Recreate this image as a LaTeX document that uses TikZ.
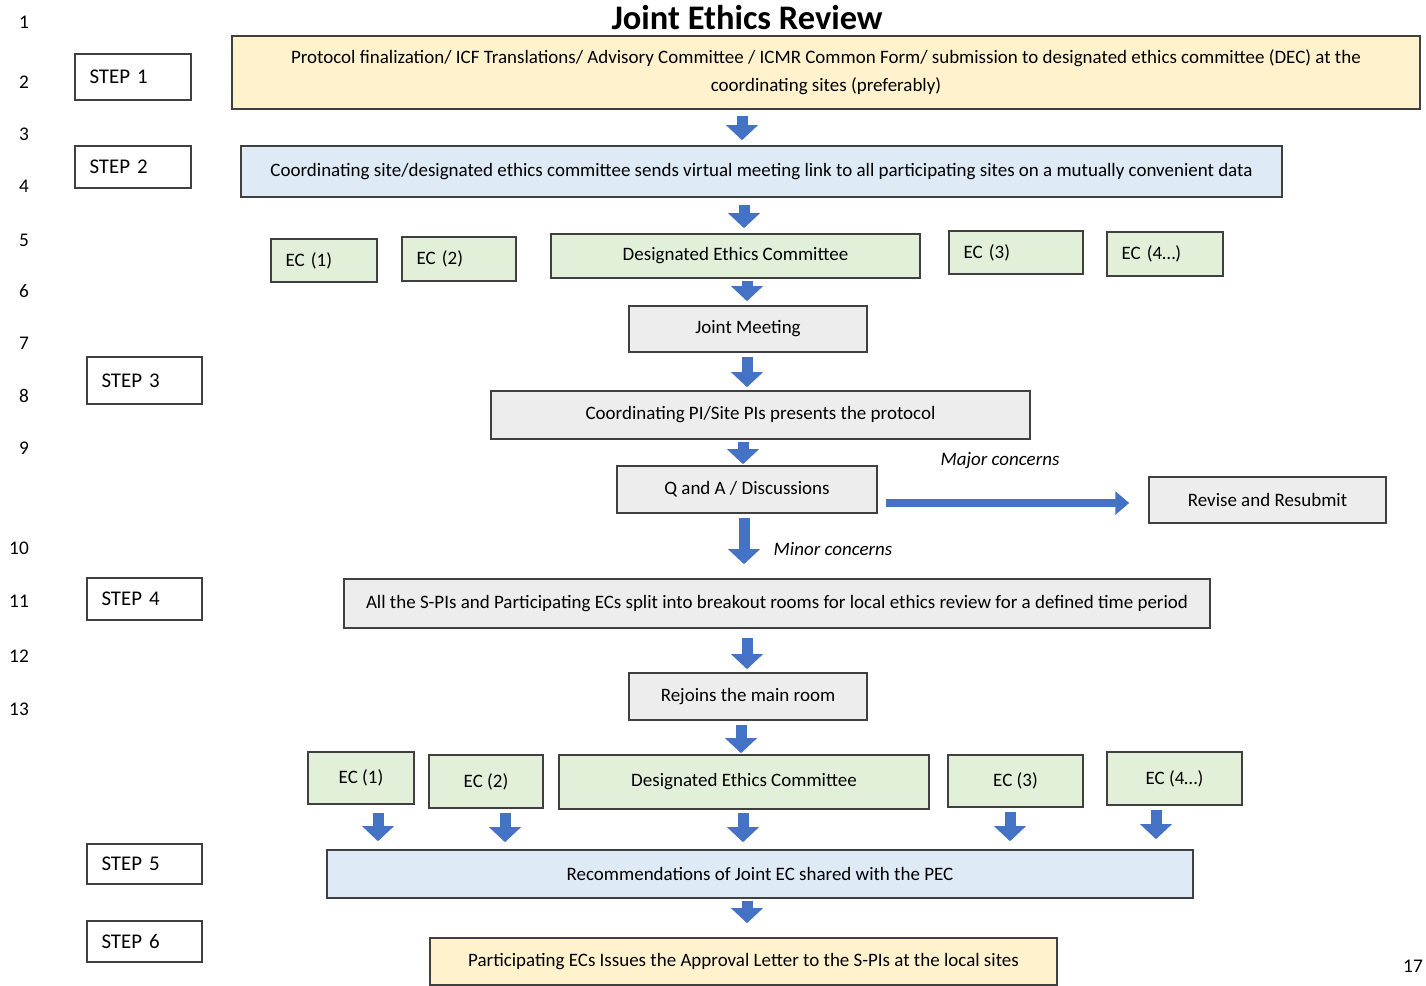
\documentclass[tikz,border=0pt]{standalone}
\usepackage{fontspec}
\setmainfont{Carlito}
\usepackage{tikz}
\usetikzlibrary{positioning,shapes,arrows.meta}

\definecolor{boxyellow}{HTML}{FFF2CC}
\definecolor{boxblue}{HTML}{DEEBF7}
\definecolor{boxgreen}{HTML}{E2F0D9}
\definecolor{boxgray}{HTML}{EDEDED}
\definecolor{arrowblue}{HTML}{4472C4}
\definecolor{edgegray}{HTML}{404040}

\begin{document}
\begin{tikzpicture}[
        x=0.02cm, y=-0.02cm,
        font=\fontsize{10.8pt}{15.9pt}\selectfont,
        flowbox/.style={draw=edgegray, rectangle, line width=0.9pt, align=center, inner sep=2pt},
        stepbox/.style={draw=edgegray, rectangle, line width=0.9pt, fill=white, align=left, text width=1.72cm, inner xsep=0.29cm, minimum height=0.88cm, font=\fontsize{11.9pt}{14pt}\selectfont},
        ecbox/.style={flowbox, fill=boxgreen},
        ecleft/.style={ecbox, align=left, inner xsep=0.29cm, text width=#1},
        blockarrow/.style={-{Triangle[width=0.62cm, length=0.3cm]}, line width=0.22cm, draw=arrowblue},
        rownum/.style={font=\fontsize{11pt}{13pt}\selectfont}
    ]
        \useasboundingbox (0,0) rectangle (1426,986);

        % title and row numbers
        \node[font=\fontsize{19.6pt}{22pt}\selectfont\bfseries] (title) at (747,18) {Joint Ethics Review};
        \foreach \n/\x/\y in {1/24/22, 2/24/82, 3/24/134, 4/24/186, 5/24/240, 6/24/291, 7/24/343, 8/24/396, 9/24/448, 10/19/548, 11/19/601, 12/19/656, 13/19/709}
            \node[rownum] (row\n) at (\x,\y) {\n};
        \node[rownum] (pagenum) at (1413,966) {17};

        % step labels
        \node[stepbox, minimum height=0.92cm, text width=1.74cm] (step1) at (133,77) {STEP 1};
        \node[stepbox, minimum height=0.84cm, text width=1.74cm] (step2) at (133,167) {STEP 2};
        \node[stepbox, minimum height=0.94cm] (step3) at (144.5,380.5) {STEP 3};
        \node[stepbox, minimum height=0.84cm] (step4) at (144.5,599) {STEP 4};
        \node[stepbox, minimum height=0.80cm] (step5) at (144.5,864) {STEP 5};
        \node[stepbox, minimum height=0.82cm] (step6) at (144.5,941.5) {STEP 6};

        % main flow
        \node[flowbox, fill=boxyellow, minimum width=23.76cm, minimum height=1.46cm] (protocol) at (826,72.5) {
            Protocol finalization/ ICF Translations/ Advisory Committee / ICMR Common Form/ submission to designated ethics committee (DEC) at the \\
            coordinating sites (preferably)
        };
        \node[flowbox, fill=boxblue, minimum width=20.82cm, minimum height=1.02cm] (link) at (761.5,171.5) {Coordinating site/designated ethics committee sends virtual meeting link to all participating sites on a mutually convenient data};

        \node[ecleft=1.54cm, minimum height=0.86cm] (ecA) at (324,260.5) {EC (1)};
        \node[ecleft=1.70cm, minimum height=0.88cm] (ecB) at (459,259) {EC (2)};
        \node[ecbox, minimum width=7.38cm, minimum height=0.88cm] (decA) at (735.5,256) {Designated Ethics Committee};
        \node[ecleft=2.10cm, minimum height=0.86cm] (ecC) at (1016,252.5) {EC (3)};
        \node[ecleft=1.74cm, minimum height=0.88cm] (ecD) at (1165,254) {EC (4\dots)};

        \node[flowbox, fill=boxgray, minimum width=4.76cm, minimum height=0.92cm] (joint) at (748,329) {Joint Meeting};
        \node[flowbox, fill=boxgray, minimum width=10.78cm, minimum height=0.96cm] (present) at (760.5,415) {Coordinating PI/Site PIs presents the protocol};
        \node[flowbox, fill=boxgray, minimum width=5.2cm, minimum height=0.94cm] (qa) at (747,489.5) {Q and A / Discussions};
        \node[flowbox, fill=boxgray, minimum width=4.74cm, minimum height=0.92cm] (revise) at (1267.5,500) {Revise and Resubmit};
        \node[flowbox, fill=boxgray, minimum width=17.32cm, minimum height=0.98cm] (breakout) at (777,603.5) {All the S-PIs and Participating ECs split into breakout rooms for local ethics review for a defined time period};
        \node[flowbox, fill=boxgray, minimum width=4.76cm, minimum height=0.94cm] (rejoin) at (748,696.5) {Rejoins the main room};

        \node[ecbox, minimum width=2.12cm, minimum height=1.04cm] (ecE) at (361,778) {EC (1)};
        \node[ecbox, minimum width=2.28cm, minimum height=1.06cm] (ecF) at (486,781.5) {EC (2)};
        \node[ecbox, minimum width=7.40cm, minimum height=1.08cm] (decB) at (744,782) {Designated Ethics Committee};
        \node[ecbox, minimum width=2.70cm, minimum height=1.04cm] (ecG) at (1015.5,781) {EC (3)};
        \node[ecbox, minimum width=2.70cm, minimum height=1.06cm] (ecH) at (1174.5,778.5) {EC (4\dots)};

        \node[flowbox, fill=boxblue, minimum width=17.32cm, minimum height=0.96cm] (recom) at (760,874) {Recommendations of Joint EC shared with the PEC};
        \node[flowbox, fill=boxyellow, minimum width=12.54cm, minimum height=0.94cm] (approval) at (743.5,961.5) {Participating ECs Issues the Approval Letter to the S-PIs at the local sites};

        \node[font=\fontsize{10.8pt}{13pt}\selectfont\itshape] (major) at (1000,461) {Major concerns};
        \node[font=\fontsize{10.8pt}{13pt}\selectfont\itshape] (minor) at (833,549) {Minor concerns};

        % block arrows
        \draw[blockarrow, shorten <=0.12cm, shorten >=0.1cm] (742,0 |- protocol.south) -- (742,0 |- link.north);
        \draw[blockarrow, shorten <=0.14cm, shorten >=0.1cm] (744,0 |- link.south) -- (744,0 |- decA.north);
        \draw[blockarrow, shorten <=0.04cm, shorten >=0.08cm] (747,0 |- decA.south) -- (747,0 |- joint.north);
        \draw[blockarrow, shorten <=0.08cm, shorten >=0.06cm] (747,0 |- joint.south) -- (747,0 |- present.north);
        \draw[blockarrow, shorten <=0.04cm, shorten >=0.02cm] (743,0 |- present.south) -- (743,0 |- qa.north);
        \draw[blockarrow, shorten <=0.08cm, shorten >=0.28cm] (744,0 |- qa.south) -- (744,0 |- breakout.north);
        \draw[blockarrow, -{Triangle[width=0.46cm, length=0.28cm]}, line width=0.16cm, shorten <=0.16cm, shorten >=0.38cm] (qa.east |- 0,503) -- (revise.west |- 0,503);
        \draw[blockarrow, shorten <=0.18cm, shorten >=0.06cm] (747,0 |- breakout.south) -- (747,0 |- rejoin.north);
        \draw[blockarrow, shorten <=0.08cm, shorten >=0.02cm] (741,0 |- rejoin.south) -- (741,0 |- decB.north);

        \draw[blockarrow, shorten <=0.16cm, shorten >=0.16cm] (378,0 |- ecE.south) -- (378,0 |- recom.north);
        \draw[blockarrow, shorten <=0.08cm, shorten >=0.14cm] (505,0 |- ecF.south) -- (505,0 |- recom.north);
        \draw[blockarrow, shorten <=0.06cm, shorten >=0.14cm] (743,0 |- decB.south) -- (743,0 |- recom.north);
        \draw[blockarrow, shorten <=0.08cm, shorten >=0.16cm] (1010,0 |- ecG.south) -- (1010,0 |- recom.north);
        \draw[blockarrow, shorten <=0.08cm, shorten >=0.2cm] (1156,0 |- ecH.south) -- (1156,0 |- recom.north);
        \draw[blockarrow, shorten <=0.04cm, shorten >=0.28cm] (747,0 |- recom.south) -- (747,0 |- approval.north);
    \end{tikzpicture}
\end{document}
